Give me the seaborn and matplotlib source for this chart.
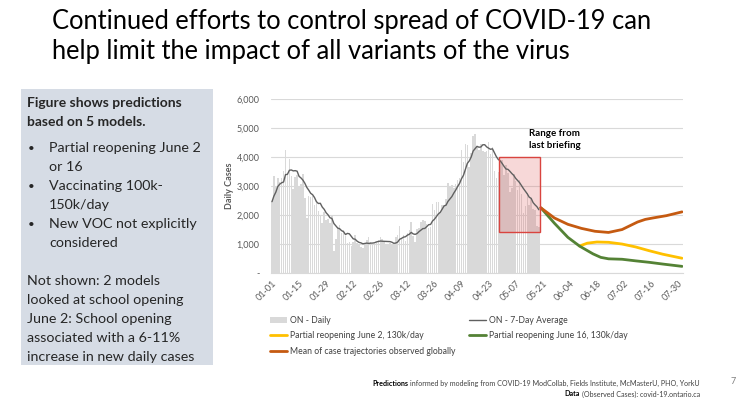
import numpy as np
import pandas as pd
import matplotlib
matplotlib.use("Agg")
import matplotlib.pyplot as plt
import matplotlib.dates as mdates
from matplotlib.patches import Rectangle, Patch
from matplotlib.lines import Line2D
import seaborn as sns

# observed daily cases (ON), Jan 1 - May 19
dec_tail = [2005, 2005, 1939, 2553, 2923, 3328]  # Dec 26-31, only for the 7-day average
jan = [2476, 3363, 2964, 3270, 3128, 3266, 3519, 4249, 3443, 3945, 3338, 2903, 3326, 3391,
       2998, 3056, 3422, 2578, 1913, 2655, 2632, 2662, 2359, 2417, 2154, 1958, 1740, 2093,
       1837, 1848, 1722]
feb = [1969, 745, 1172, 1563, 1670, 1388, 1489, 1265, 1022, 1072, 945, 1076, 1300, 1022,
       964, 904, 847, 1038, 1150, 1228, 1087, 981, 975, 1054, 1138, 1258, 1185, 1062]
mar = [966, 958, 1023, 994, 990, 1250, 1299, 1631, 1185, 1316, 1092, 1371, 1468, 1747,
       1268, 1074, 1508, 1553, 1745, 1829, 1791, 1699, 1546, 1571, 2380, 2169, 2453, 2448,
       2094, 2336, 2333]
apr = [2557, 3089, 3009, 3041, 2938, 3065, 3215, 3295, 4227, 3813, 4456, 4401, 3670, 4156,
       4736, 4812, 4362, 4250, 4447, 4212, 4164, 4212, 4505, 4094, 4362, 3510, 3265, 3480,
       3871, 3887]
may = [3369, 3732, 3436, 2791, 2941, 3424, 3166, 2864, 3216, 2716, 2073, 2320, 2759, 2362,
       2584, 2199, 2170, 1616, 1588]

# projections
orange_dates = ["2021-05-20", "2021-05-27", "2021-06-03", "2021-06-10", "2021-06-17",
                "2021-06-24", "2021-07-01", "2021-07-05", "2021-07-09", "2021-07-13",
                "2021-07-17", "2021-07-24", "2021-08-01"]
orange_vals = [2250, 1900, 1680, 1540, 1440, 1400, 1500, 1630, 1760, 1850, 1900, 1980, 2110]
green_dates = ["2021-05-20", "2021-05-27", "2021-06-03", "2021-06-09", "2021-06-16",
               "2021-06-20", "2021-06-24", "2021-07-01", "2021-07-08", "2021-07-15",
               "2021-07-22", "2021-08-01"]
green_vals = [2250, 1720, 1230, 930, 660, 540, 490, 475, 420, 370, 310, 230]
yellow_dates = ["2021-06-09", "2021-06-13", "2021-06-18", "2021-06-24", "2021-07-01",
                "2021-07-08", "2021-07-15", "2021-07-22", "2021-08-01"]
yellow_vals = [930, 1030, 1070, 1060, 1000, 900, 770, 650, 510]

tick_labels = ["01-01", "01-15", "01-29", "02-12", "02-26", "03-12", "03-26", "04-09",
               "04-23", "05-07", "05-21", "06-04", "06-18", "07-02", "07-16", "07-30"]

daily = jan + feb + mar + apr + may
dates = pd.date_range("2021-01-01", periods=len(daily), freq="D")
avg7 = pd.Series(dec_tail + daily).rolling(7).mean().iloc[len(dec_tail):].values
obs = pd.DataFrame({"date": dates, "daily": daily, "avg": avg7})

sns.set_theme(style="white")
plt.rcParams["font.family"] = ["Lato", "DejaVu Sans"]

fig = plt.figure(figsize=(7.44, 3.98), dpi=100)
ax = fig.add_axes([0.364, 0.314, 0.554, 0.437])

bar_col = "#D9D9D9"
ax.bar(obs["date"], obs["daily"], width=0.8, color=bar_col, edgecolor="none", lw=0,
       zorder=2)
sns.lineplot(data=obs, x="date", y="avg", color="#606060", lw=1.0, ax=ax, zorder=4)

proj_o = pd.DataFrame({"date": pd.to_datetime(orange_dates), "v": orange_vals})
proj_g = pd.DataFrame({"date": pd.to_datetime(green_dates), "v": green_vals})
proj_y = pd.DataFrame({"date": pd.to_datetime(yellow_dates), "v": yellow_vals})
sns.lineplot(data=proj_y, x="date", y="v", color="#FFC000", lw=2.0, ax=ax, zorder=5)
sns.lineplot(data=proj_g, x="date", y="v", color="#548235", lw=2.0, ax=ax, zorder=6)
sns.lineplot(data=proj_o, x="date", y="v", color="#C55A11", lw=2.0, ax=ax, zorder=7)

# range from last briefing
r0 = mdates.date2num(pd.Timestamp("2021-04-29")) - 0.5
r1 = mdates.date2num(pd.Timestamp("2021-05-19")) + 0.5
ax.add_patch(Rectangle((r0, 1420), r1 - r0, 4000 - 1420, facecolor="#E06666", alpha=0.25,
                       edgecolor="none", zorder=3))
ax.add_patch(Rectangle((r0, 1420), r1 - r0, 4000 - 1420, facecolor="none",
                       edgecolor="#D9443F", lw=1.0, zorder=8))
ax.text(mdates.date2num(pd.Timestamp("2021-05-14")), 4620, "Range from\nlast briefing",
        fontsize=7, fontweight="bold", color="black", va="center", ha="left",
        linespacing=1.4)

ax.set_xlim(mdates.date2num(pd.Timestamp("2020-12-31")) + 0.4,
            mdates.date2num(pd.Timestamp("2021-08-01")) + 0.5)
ax.set_ylim(0, 6000)
ax.set_yticks(range(0, 6001, 1000))
ax.set_yticklabels(["-"] + [f"{v:,}" for v in range(1000, 6001, 1000)])
ticks = pd.to_datetime(["2021-" + t for t in tick_labels])
ax.set_xticks(ticks)
ax.set_xticklabels(tick_labels, rotation=45, ha="right", rotation_mode="anchor")
ax.tick_params(axis="both", labelsize=6.5, colors="#595959", length=0)
ax.tick_params(axis="y", pad=8)
ax.tick_params(axis="x", pad=4)
ax.grid(axis="y", color="#D9D9D9", lw=0.8, zorder=0)
for s in ["top", "right", "left"]:
    ax.spines[s].set_visible(False)
ax.spines["bottom"].set_color("#D9D9D9")
ax.spines["bottom"].set_linewidth(0.8)
ax.set_xlabel("")
ax.set_ylabel("Daily Cases", fontsize=6.5, fontweight="bold", color="#595959", labelpad=2)

handles = [Patch(facecolor=bar_col, edgecolor="none"),
           Line2D([], [], color="#FFC000", lw=2),
           Line2D([], [], color="#C55A11", lw=2),
           Line2D([], [], color="#606060", lw=1),
           Line2D([], [], color="#548235", lw=2)]
labels = ["ON - Daily", "Partial reopening June 2, 130k/day",
          "Mean of case trajectories observed globally", "ON - 7-Day Average",
          "Partial reopening June 16, 130k/day"]
leg = fig.legend(handles, labels, ncol=2, loc="upper left",
                 bbox_to_anchor=(262 / 744, 1 - 308 / 398), frameon=False,
                 fontsize=6.2, handlelength=2.0, handletextpad=0.3, columnspacing=1.6,
                 labelspacing=0.75)
for t in leg.get_texts():
    t.set_color("#404040")

# title
fig.text(52 / 744, 1 - 22 / 398, "Continued efforts to control spread of COVID-19 can",
         fontsize=18.4, va="center", ha="left", color="black")
fig.text(52 / 744, 1 - 52 / 398, "help limit the impact of all variants of the virus",
         fontsize=18.4, va="center", ha="left", color="black")

# left box
fig.patches.append(Rectangle((21 / 744, 1 - 365 / 398), 192 / 744, 276 / 398,
                             transform=fig.transFigure, facecolor="#D6DCE5",
                             edgecolor="none", zorder=0))
fs = 10.3
fig.text(27 / 744, 1 - 103 / 398, "Figure shows predictions", fontsize=fs - 0.3,
         fontweight="bold", va="center")
fig.text(27 / 744, 1 - 122 / 398, "based on 5 models.", fontsize=fs - 0.3,
         fontweight="bold", va="center")
bullets = [("Partial reopening June 2", 148), ("or 16", 167), ("Vaccinating 100k-", 186),
           ("150k/day", 205), ("New VOC not explicitly", 224), ("considered", 243)]
for i, (txt, y) in enumerate(bullets):
    fig.text(49 / 744, 1 - y / 398, txt, fontsize=fs, va="center")
    if i % 2 == 0:
        fig.text(28 / 744, 1 - y / 398, "\u2022", fontsize=fs - 2, va="center")
notes = [("Not shown: 2 models", 281), ("looked at school opening", 300),
         ("June 2: School opening", 319), ("associated with a 6-11%", 338),
         ("increase in new daily cases", 357)]
for txt, y in notes:
    fig.text(27 / 744, 1 - y / 398, txt, fontsize=fs, va="center")

# footer
ffs = 5.1
t1 = fig.text(700 / 744, 1 - 383 / 398, "informed by modeling from COVID-19 ModCollab, "
              "Fields Institute, McMasterU, PHO, YorkU", fontsize=ffs, ha="right",
              va="center", color="#404040")
t2 = fig.text(700 / 744, 1 - 394 / 398, "(Observed Cases): covid-19.ontario.ca",
              fontsize=ffs, ha="right", va="center", color="#404040")
fig.canvas.draw()
r = fig.canvas.get_renderer()
bb1 = t1.get_window_extent(r)
bb2 = t2.get_window_extent(r)
fig.text((bb1.x0 - 2) / 744, 1 - 383 / 398, "Predictions", fontsize=ffs, fontweight="bold",
         ha="right", va="center", color="black")
fig.text((bb2.x0 - 2) / 744, 1 - 394 / 398, "Data", fontsize=ffs, fontweight="bold",
         ha="right", va="center", color="black")
fig.text(733 / 744, 1 - 381 / 398, "7", fontsize=6.5, ha="center", va="center",
         color="#7F7F7F")

fig.savefig("out.png", dpi=100)
